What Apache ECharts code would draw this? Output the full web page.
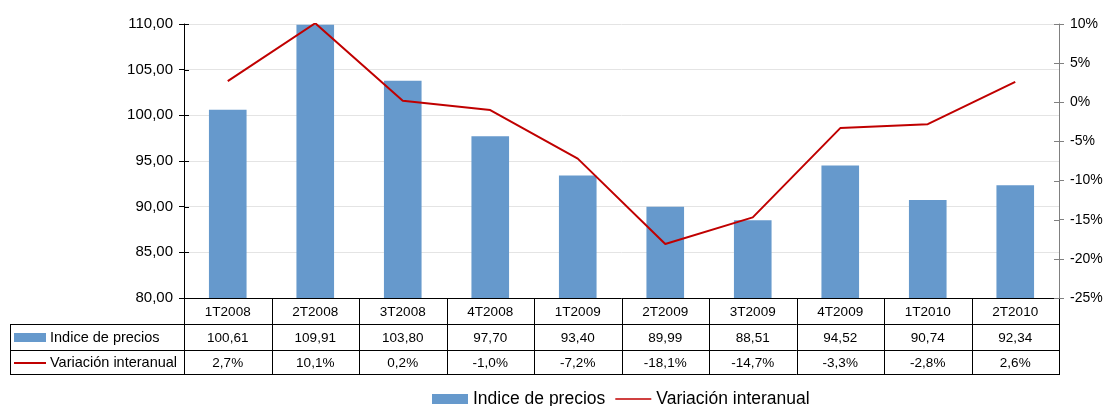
<!DOCTYPE html>
<html>
<head>
<meta charset="utf-8">
<script src="https://cdn.jsdelivr.net/npm/echarts@6/dist/echarts.min.js"></script>
<style>
  html, body { margin: 0; padding: 0; background: #fff; }
  #chart { width: 1104px; height: 406px; }
</style>
</head>
<body>
<div id="chart"></div>
<script>
const categories = ['1T2008', '2T2008', '3T2008', '4T2008', '1T2009', '2T2009', '3T2009', '4T2009', '1T2010', '2T2010']
const indicePrecios = [100.61, 109.91, 103.80, 97.70, 93.40, 89.99, 88.51, 94.52, 90.74, 92.34]
const variacion = [2.7, 10.1, 0.2, -1.0, -7.2, -18.1, -14.7, -3.3, -2.8, 2.6]
const seriesNames = ['Indice de precios', 'Variación interanual']
const leftTicks = [80, 85, 90, 95, 100, 105, 110]
const rightTicks = [-25, -20, -15, -10, -5, 0, 5, 10]

const FONT = '"Liberation Sans", Arial, sans-serif'
const BLUE = '#6699cc'
const RED = '#c00000'

const fmtIdx = v => v.toFixed(2).replace('.', ',')
const fmtPct = v => v.toFixed(1).replace('.', ',') + '%'

const chart = echarts.init(document.getElementById('chart'))

const option = {
  animation: false,
  textStyle: { fontFamily: FONT },
  grid: { left: 184, right: 45, top: 24, bottom: 108, outerBoundsMode: 'none', containLabel: false },
  legend: {
    left: 427,
    top: 385,
    itemWidth: 36,
    itemHeight: 10,
    itemGap: 10,
    textStyle: { fontSize: 17.5, color: '#000', fontFamily: FONT },
    data: [
      { name: seriesNames[0], icon: 'rect' },
      { name: seriesNames[1], icon: 'path://M0,4.2 L36,4.2 L36,5.8 L0,5.8 Z' }
    ]
  },
  xAxis: {
    type: 'category',
    data: categories,
    axisLine: { onZero: false, lineStyle: { color: '#000', width: 1 } },
    axisTick: { show: false },
    axisLabel: { margin: 7, fontSize: 13.5, color: '#000', fontFamily: FONT }
  },
  yAxis: [
    {
      type: 'value',
      min: leftTicks[0],
      max: leftTicks[leftTicks.length - 1],
      interval: 5,
      axisLine: { show: true, lineStyle: { color: '#000' } },
      axisTick: { show: true, length: 5, lineStyle: { color: '#000' } },
      axisLabel: { margin: 11, fontSize: 15, color: '#000', fontFamily: FONT, formatter: v => fmtIdx(v) },
      splitLine: { lineStyle: { color: '#e4e4e4' } }
    },
    {
      type: 'value',
      min: rightTicks[0],
      max: rightTicks[rightTicks.length - 1],
      interval: 5,
      position: 'right',
      axisLine: { show: true, lineStyle: { color: '#808080' } },
      axisTick: { show: true, length: 5, lineStyle: { color: '#808080' } },
      axisLabel: { margin: 11, fontSize: 14, color: '#000', fontFamily: FONT, formatter: v => v + '%' },
      splitLine: { show: false }
    }
  ],
  series: [
    {
      name: seriesNames[0],
      type: 'bar',
      data: indicePrecios,
      barWidth: '43%',
      itemStyle: { color: BLUE }
    },
    {
      name: seriesNames[1],
      type: 'line',
      yAxisIndex: 1,
      data: variacion,
      symbol: 'none',
      lineStyle: { color: RED, width: 2 },
      itemStyle: { color: RED }
    }
  ]
}
chart.setOption(option)

// data table under the plot + inner half of the cross ticks
function buildTable() {
  const x0 = chart.convertToPixel({ xAxisIndex: 0 }, 0)
  const x1 = chart.convertToPixel({ xAxisIndex: 0 }, 1)
  const step = x1 - x0
  const left = x0 - step / 2
  const right = left + step * categories.length
  const rowTop = 298, row1 = 324, row2 = 350, row3 = 374, tableLeft = 10
  const lineStyle = { stroke: '#000', lineWidth: 1 }
  const els = []
  const hline = (xa, xb, y, st) => els.push({ type: 'line', shape: { x1: xa, y1: Math.round(y) + 0.5, x2: xb, y2: Math.round(y) + 0.5 }, style: st || lineStyle, silent: true, z: 10 })
  const vline = (x, ya, yb) => els.push({ type: 'line', shape: { x1: Math.round(x) + 0.5, y1: ya, x2: Math.round(x) + 0.5, y2: yb }, style: lineStyle, silent: true })

  leftTicks.forEach(v => {
    const y = chart.convertToPixel({ yAxisIndex: 0 }, v)
    hline(left, left + 5, y)
  })
  rightTicks.forEach(v => {
    const y = chart.convertToPixel({ yAxisIndex: 1 }, v)
    hline(right - 5, right, y, { stroke: '#808080', lineWidth: 1 })
  })

  hline(tableLeft, right, row1)
  hline(tableLeft, right, row2)
  hline(tableLeft, right, row3)
  vline(tableLeft, row1, row3 + 1)
  for (let i = 0; i <= categories.length; i++) vline(left + step * i, rowTop, row3 + 1)

  const cellText = (x, y, t) => els.push({
    type: 'text', x: x, y: y, silent: true,
    style: { text: t, fill: '#000', font: '13.5px ' + FONT, textAlign: 'center', textVerticalAlign: 'middle' }
  })
  categories.forEach((c, i) => {
    const cx = left + step * (i + 0.5)
    cellText(cx, (row1 + row2) / 2 + 1, fmtIdx(indicePrecios[i]))
    cellText(cx, (row2 + row3) / 2 + 1, fmtPct(variacion[i]))
  })

  // row headers with legend keys
  els.push({ type: 'rect', shape: { x: 14, y: 333, width: 32, height: 9 }, style: { fill: BLUE }, silent: true })
  els.push({ type: 'rect', shape: { x: 14, y: 362, width: 32, height: 2 }, style: { fill: RED }, silent: true })
  els.push({ type: 'text', x: 50, y: (row1 + row2) / 2 + 1, silent: true,
    style: { text: seriesNames[0], fill: '#000', font: '14.5px ' + FONT, textVerticalAlign: 'middle' } })
  els.push({ type: 'text', x: 50, y: (row2 + row3) / 2 + 1, silent: true,
    style: { text: seriesNames[1], fill: '#000', font: '14.5px ' + FONT, textVerticalAlign: 'middle' } })

  chart.setOption({ graphic: els })
}
buildTable()
</script>
</body>
</html>
